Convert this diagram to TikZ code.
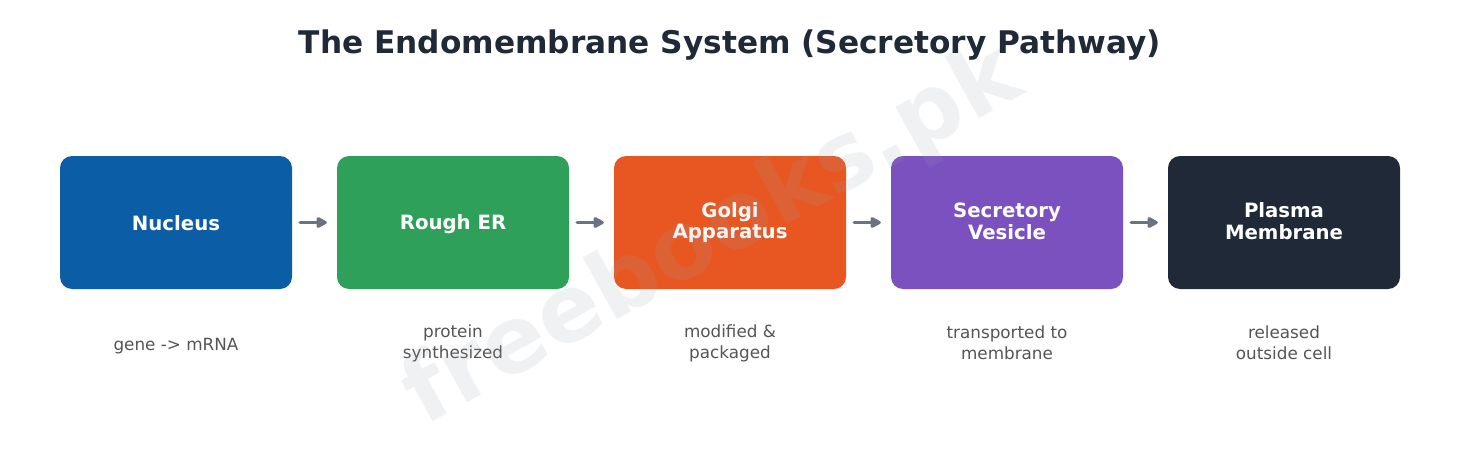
\documentclass[tikz,border=0pt]{standalone}
\usepackage{fontspec}
\setmainfont{DejaVu Sans}
\usepackage{xcolor}
\definecolor{nucleusblue}{RGB}{11,94,165}
\definecolor{ergreen}{RGB}{46,160,90}
\definecolor{golgiorange}{RGB}{232,87,33}
\definecolor{vesiclepurple}{RGB}{123,81,192}
\definecolor{membranedark}{RGB}{31,41,55}
\definecolor{titledark}{RGB}{31,41,55}
\definecolor{notegray}{RGB}{85,85,85}
\definecolor{arrowgray}{RGB}{107,114,128}
\definecolor{markgray}{RGB}{150,158,172}
\usepackage{tikz}
\usetikzlibrary{arrows.meta}
\newcommand{\widthstage}{232pt}
\newcommand{\heightstage}{133pt}
\newcommand{\stepstage}{277}
\newcommand{\linestrut}{\rule[-0.12\baselineskip]{0pt}{\baselineskip}}
\tikzset{
    common/.style={anchor=center, align=center, inner sep=0pt},
    lines/.style={execute at begin node={\linestrut}, execute at end node={\linestrut}},
    stage/.style={common, lines, rectangle, rounded corners=12pt, minimum width=\widthstage, minimum height=\heightstage,
        text=white, font=\bfseries\fontsize{19.7}{21.5}\selectfont},
    note/.style={common, lines, text=notegray, font=\fontsize{16.8}{21}\selectfont},
    title/.style={common, text=titledark, font=\bfseries\fontsize{31.2}{36}\selectfont},
    flow/.style={arrowgray, line width=3.5pt, line cap=round, shorten <=8pt, shorten >=10pt,
        -{Triangle[length=12pt, width=12pt, round]}},
    watermark/.style={common, rotate=29, text=markgray, opacity=0.14, font=\bfseries\fontsize{93}{93}\selectfont}
}

\begin{document}
\begin{tikzpicture}[x=1pt, y=-1pt]
    \useasboundingbox (0,0) rectangle (1471,468);

    % stages
    \path
        (176,222.5) node[stage, fill=nucleusblue] (nuc) {Nucleus}
        ++(\stepstage,0) node[stage, fill=ergreen] (rer) {Rough ER}
        ++(\stepstage,0) node[stage, fill=golgiorange] (golgi) {Golgi\\Apparatus}
        ++(\stepstage,0) node[stage, fill=vesiclepurple] (vesicle) {Secretory\\Vesicle}
        ++(\stepstage,0) node[stage, fill=membranedark] (membrane) {Plasma\\Membrane};

    % notes
    \path
        (176,343.5) node[note] (nucnote) {gene -> mRNA}
        ++(\stepstage,0) node[note] (rernote) {protein\\synthesized}
        ++(\stepstage,0) node[note] (golginote) {modified \&\\packaged}
        ++(\stepstage,0) node[note] (vesiclenote) {transported to\\membrane}
        ++(\stepstage,0) node[note] (membranenote) {released\\outside cell};

    \draw[flow] (nuc) -- (rer);
    \draw[flow] (rer) -- (golgi);
    \draw[flow] (golgi) -- (vesicle);
    \draw[flow] (vesicle) -- (membrane);

    \node[watermark] (wm) at (713,237) {freebooks.pk};
    \node[title] (ttl) at (730,45) {The Endomembrane System (Secretory Pathway)};
\end{tikzpicture}
\end{document}
